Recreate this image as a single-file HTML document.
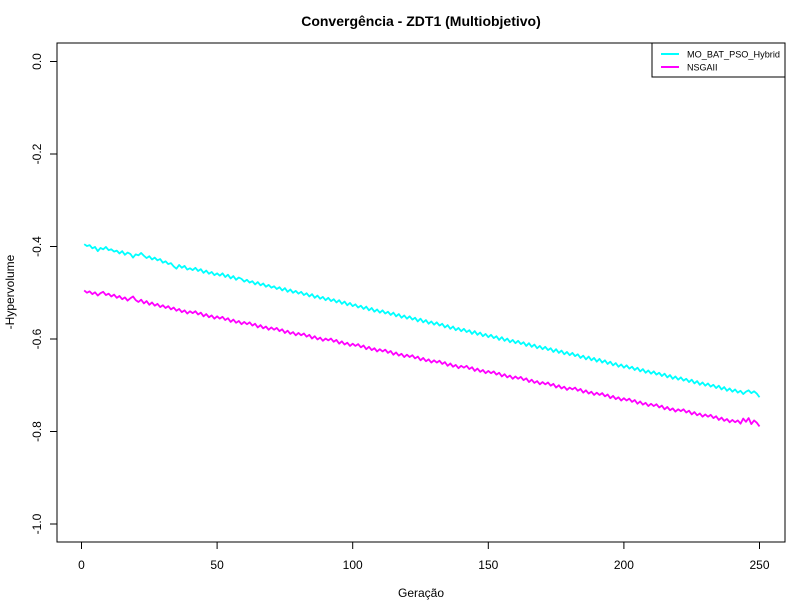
<!DOCTYPE html>
<html><head><meta charset="utf-8"><style>
body{margin:0;background:#fff}
svg{display:block;font-family:"Liberation Sans",sans-serif}
</style></head><body>
<svg id="chart" width="800" height="600" viewBox="0 0 800 600">
<rect width="800" height="600" fill="#fff"/>
<text x="421" y="26" text-anchor="middle" font-size="14" font-weight="bold">Convergência - ZDT1 (Multiobjetivo)</text>
<text x="421" y="597" text-anchor="middle" font-size="12">Geração</text>
<text transform="translate(14,292) rotate(-90)" text-anchor="middle" font-size="12">-Hypervolume</text>
<g id="plot"></g>
<rect x="57" y="43" width="728" height="499" fill="none" stroke="#000" stroke-width="1"/>
<g>
<rect x="652" y="43" width="133" height="34" fill="#fff" stroke="#000"/>
<line x1="661" y1="54" x2="679" y2="54" stroke="#00ffff" stroke-width="2"/>
<text x="687" y="57.5" font-size="9" textLength="93" lengthAdjust="spacingAndGlyphs">MO_BAT_PSO_Hybrid</text>
<line x1="661" y1="67" x2="679" y2="67" stroke="#ff00ff" stroke-width="2"/>
<text x="687" y="70.5" font-size="9">NSGAII</text>
</g>
</svg>
<script>
const xTicks=[0,50,100,150,200,250];
const yTicks=[-1.0,-0.8,-0.6,-0.4,-0.2,0.0];
const yTickLabels=["-1.0","-0.8","-0.6","-0.4","-0.2","0.0"];
const moBat=[-.395,-.399,-.397,-.404,-.401,-.410,-.403,-.406,-.401,-.408,
-.406,-.411,-.409,-.415,-.410,-.418,-.413,-.416,-.424,-.417,
-.419,-.414,-.420,-.425,-.421,-.428,-.424,-.430,-.427,-.435,
-.432,-.438,-.436,-.443,-.448,-.440,-.446,-.442,-.450,-.447,
-.451,-.446,-.453,-.449,-.457,-.452,-.459,-.455,-.462,-.458,
-.463,-.458,-.466,-.461,-.469,-.464,-.472,-.467,-.470,-.476,
-.472,-.478,-.475,-.482,-.477,-.484,-.480,-.487,-.483,-.489,
-.486,-.492,-.488,-.495,-.490,-.498,-.493,-.500,-.496,-.502,
-.498,-.505,-.501,-.508,-.503,-.511,-.506,-.513,-.509,-.516,
-.511,-.518,-.514,-.521,-.516,-.524,-.519,-.527,-.522,-.529,
-.525,-.532,-.528,-.535,-.530,-.538,-.533,-.541,-.536,-.543,
-.538,-.545,-.541,-.548,-.543,-.551,-.546,-.554,-.549,-.556,
-.551,-.558,-.554,-.562,-.556,-.564,-.559,-.567,-.562,-.569,
-.564,-.571,-.567,-.575,-.570,-.578,-.573,-.581,-.576,-.583,
-.578,-.585,-.581,-.589,-.583,-.591,-.586,-.594,-.589,-.596,
-.591,-.598,-.594,-.602,-.596,-.604,-.599,-.607,-.602,-.609,
-.604,-.611,-.607,-.615,-.609,-.617,-.612,-.620,-.615,-.622,
-.617,-.624,-.620,-.628,-.622,-.630,-.625,-.633,-.628,-.635,
-.630,-.637,-.633,-.641,-.636,-.644,-.638,-.646,-.641,-.649,
-.643,-.651,-.646,-.654,-.649,-.657,-.652,-.660,-.655,-.662,
-.657,-.664,-.660,-.667,-.662,-.670,-.665,-.673,-.668,-.675,
-.670,-.677,-.673,-.680,-.675,-.683,-.678,-.686,-.681,-.688,
-.683,-.690,-.686,-.693,-.688,-.696,-.691,-.699,-.694,-.701,
-.696,-.703,-.699,-.706,-.701,-.709,-.704,-.712,-.707,-.714,
-.709,-.716,-.712,-.719,-.714,-.711,-.717,-.713,-.718,-.726];
const nsga=[-.495,-.500,-.497,-.503,-.499,-.506,-.501,-.498,-.505,-.502,
-.508,-.504,-.511,-.507,-.514,-.510,-.517,-.512,-.508,-.516,
-.520,-.515,-.523,-.518,-.526,-.521,-.528,-.524,-.531,-.527,
-.533,-.529,-.536,-.532,-.539,-.535,-.542,-.538,-.545,-.540,
-.544,-.540,-.547,-.543,-.551,-.546,-.553,-.549,-.556,-.551,
-.556,-.552,-.559,-.555,-.563,-.558,-.565,-.561,-.568,-.563,
-.568,-.564,-.571,-.567,-.575,-.570,-.577,-.573,-.580,-.575,
-.580,-.576,-.583,-.579,-.587,-.582,-.589,-.585,-.592,-.587,
-.592,-.588,-.595,-.591,-.599,-.594,-.601,-.597,-.604,-.599,
-.603,-.599,-.606,-.602,-.610,-.605,-.612,-.608,-.615,-.610,
-.615,-.611,-.618,-.614,-.622,-.617,-.624,-.620,-.627,-.622,
-.627,-.623,-.630,-.626,-.634,-.629,-.636,-.632,-.639,-.634,
-.639,-.635,-.642,-.638,-.646,-.641,-.648,-.644,-.651,-.646,
-.651,-.647,-.654,-.650,-.658,-.653,-.660,-.656,-.663,-.658,
-.662,-.658,-.665,-.661,-.669,-.664,-.671,-.667,-.674,-.669,
-.674,-.670,-.677,-.673,-.681,-.676,-.683,-.679,-.686,-.681,
-.686,-.682,-.689,-.685,-.693,-.688,-.695,-.691,-.698,-.693,
-.698,-.694,-.701,-.697,-.705,-.700,-.707,-.703,-.710,-.705,
-.709,-.705,-.712,-.708,-.716,-.711,-.718,-.714,-.721,-.716,
-.721,-.717,-.724,-.720,-.728,-.723,-.730,-.726,-.733,-.728,
-.733,-.729,-.736,-.732,-.740,-.735,-.742,-.738,-.745,-.740,
-.745,-.741,-.748,-.744,-.752,-.747,-.754,-.750,-.757,-.752,
-.756,-.752,-.759,-.755,-.763,-.758,-.765,-.761,-.768,-.763,
-.768,-.764,-.771,-.767,-.775,-.770,-.777,-.773,-.780,-.775,
-.780,-.776,-.783,-.772,-.779,-.771,-.784,-.776,-.781,-.789];
const NS="http://www.w3.org/2000/svg";
const g=document.getElementById('plot');
function xs(v){return 81.5+v*(759.5-81.5)/250;}
function ys(v){return 61.5+(0-v)*(524-61.5)/1.0;}
function mk(t,a){const e=document.createElementNS(NS,t);for(const k in a)e.setAttribute(k,a[k]);g.appendChild(e);return e;}
xTicks.forEach(v=>{
  const l=mk('line',{x1:xs(v),x2:xs(v),y1:542,y2:549,stroke:'#000'});
  
  
  const t=mk('text',{x:xs(v),y:569,'text-anchor':'middle','font-size':12});
  t.textContent=v;
  
  
});
yTicks.forEach((v,i)=>{
  const l=mk('line',{x1:50,x2:57,y1:ys(v),y2:ys(v),stroke:'#000'});
  
  
  const t=mk('text',{transform:`translate(41,${ys(v)}) rotate(-90)`,'text-anchor':'middle','font-size':12});
  t.textContent=yTickLabels[i];
  
  
});
function line(arr,color,name){
  const d=arr.map((v,i)=>(i?'L':'M')+xs(i+1).toFixed(2)+','+ys(v).toFixed(2)).join('');
  const p=mk('path',{d:d,fill:'none',stroke:color,'stroke-width':1.8,'stroke-linejoin':'round'});
  
  
}
line(moBat,'#00ffff','series-mo-bat-pso-hybrid');
line(nsga,'#ff00ff','series-nsgaii');
</script>
</body></html>
